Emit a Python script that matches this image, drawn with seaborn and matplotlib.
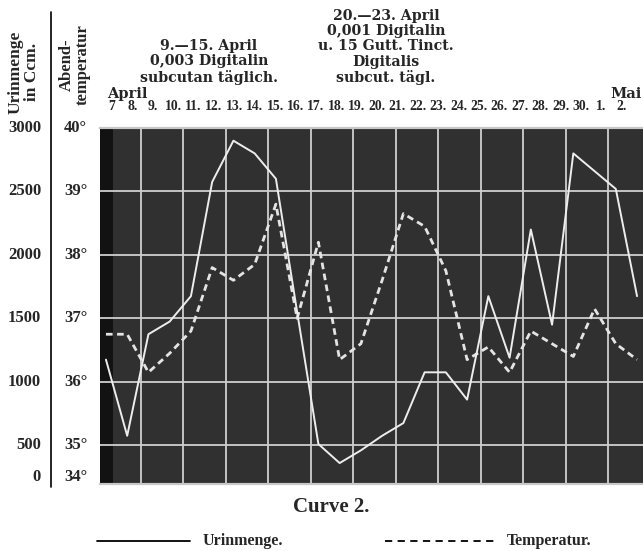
import numpy as np
import pandas as pd
import seaborn as sns
import matplotlib
matplotlib.use("Agg")
import matplotlib.pyplot as plt
from matplotlib.lines import Line2D
from matplotlib.patches import Rectangle
from matplotlib.transforms import blended_transform_factory

# ---------------- data ----------------
date_labels = ["7", "8.", "9.", "10.", "11.", "12.", "13.", "14.", "15.", "16.",
               "17.", "18.", "19.", "20.", "21.", "22.", "23.", "24.", "25.", "26.",
               "27.", "28.", "29.", "30.", "1.", "2."]
urine = [1175, 575, 1375, 1475, 1675, 2575, 2900, 2800, 2600, 1550,
         510, 360, 460, 575, 675, 1075, 1075, 860, 1675, 1190,
         2200, 1450, 2800, 2660, 2520, 1675]
temp = [36.75, 36.75, 36.15, 36.45, 36.8, 37.8, 37.6, 37.85, 38.8, 37.0,
        38.2, 36.35, 36.6, 37.6, 38.65, 38.45, 37.75, 36.35, 36.55, 36.15,
        36.8, 36.6, 36.4, 37.15, 36.6, 36.35]
urine_ticks = [500, 1000, 1500, 2000, 2500, 3000]
temp_ticks = [35, 36, 37, 38, 39, 40]

df = pd.DataFrame({"day": np.arange(len(date_labels)), "urine": urine, "temp": temp})

# ---------------- figure ----------------
W, H = 643, 551
sns.set_theme(style="white")
plt.rcParams["font.family"] = ["DejaVu Serif"]
NUM = ["Liberation Serif", "DejaVu Serif"]

fig = plt.figure(figsize=(W / 100, H / 100), dpi=100)
fig.patch.set_facecolor("white")

def fx(px):
    return px / W

def fy(py):
    return 1 - py / H

ax = fig.add_axes([fx(100), fy(484), (643 - 100) / W, (484 - 128) / H])
ax.set_facecolor("#303030")
ax.set_xlim(-0.28, 25.28)
ax.set_ylim(34.39, 40.0)

ax2 = ax.twinx()
ax2.set_ylim(195, 3000)

# dark strip at the left edge of the photographed grid
ax.add_patch(Rectangle((0, 0), 0.024, 1, transform=ax.transAxes,
                       color="#121212", zorder=0.5, lw=0))

# grid
grid_x = [1.65 + 2 * k for k in range(12)]
ax.set_xticks(grid_x)
ax.set_yticks(temp_ticks[:-1])
ax.grid(True, color="#cfcfcf", lw=1.3)
ax.tick_params(length=0, labelleft=False, labelbottom=False)
ax2.tick_params(length=0, labelright=False)
ax2.grid(False)
for a in (ax, ax2):
    for s in ("left", "right"):
        a.spines[s].set_visible(False)
    for s in ("top", "bottom"):
        a.spines[s].set_color("#c8c8c8")
        a.spines[s].set_linewidth(1.5)

# curves
sns.lineplot(data=df, x="day", y="temp", ax=ax, color="#e4e4e4", lw=2.0,
             linestyle=(0, (2.4, 1.6)), zorder=3)
sns.lineplot(data=df, x="day", y="urine", ax=ax2, color="#ededed", lw=1.4, zorder=4)
for a in (ax, ax2):
    a.set_xlabel("")
    a.set_ylabel("")

# date labels along the top (the printed row is set slightly tighter than the grid)
tdate = blended_transform_factory(ax.transData, fig.transFigure)
for i, lab in enumerate(date_labels):
    ax.text(0.28 + 0.96 * i, fy(107), lab, transform=tdate, ha="center", va="center",
            fontsize=9.8, fontweight="bold", family=NUM, clip_on=False)
fig.text(fx(107), fy(94), "April", ha="left", va="center", fontsize=10.5, fontweight="bold")
fig.text(fx(642), fy(94), "Mai", ha="right", va="center", fontsize=10.5, fontweight="bold")

# annotations
fig.text(fx(209), fy(62), "9.—15. April\n0,003 Digitalin\nsubcutan täglich.",
         ha="center", va="center", multialignment="center", fontsize=10.2,
         fontweight="bold", linespacing=1.12)
fig.text(fx(386), fy(47), "20.—23. April\n0,001 Digitalin\nu. 15 Gutt. Tinct.\nDigitalis\nsubcut. tägl.",
         ha="center", va="center", multialignment="center", fontsize=10.2,
         fontweight="bold", linespacing=1.12)

# left scales
fig.add_artist(Line2D([fx(50.5)] * 2, [fy(12), fy(487)], color="black", lw=1.2))
fig.text(fx(24), fy(72), "Urinmenge\nin Ccm.", rotation=90, ha="center", va="center",
         multialignment="center", fontsize=12.5, fontweight="bold", family=NUM, linespacing=1.0)
fig.text(fx(75), fy(65), "Abend-\ntemperatur", rotation=90, ha="center", va="center",
         multialignment="center", fontsize=12, fontweight="bold", family=NUM, linespacing=1.0)

tu = blended_transform_factory(fig.transFigure, ax2.transData)
for v in urine_ticks:
    fig.text(fx(41), v, str(v), transform=tu, ha="right", va="center",
             fontsize=12, fontweight="bold", family=NUM)
fig.text(fx(41), fy(477), "0", ha="right", va="center", fontsize=12, fontweight="bold", family=NUM)

tt = blended_transform_factory(fig.transFigure, ax.transData)
for v in temp_ticks:
    fig.text(fx(64), v, f"{v}°", transform=tt, ha="left", va="center",
             fontsize=12, fontweight="bold", family=NUM)
fig.text(fx(64), fy(477), "34°", ha="left", va="center", fontsize=12, fontweight="bold", family=NUM)

# caption and legend
fig.text(fx(331), fy(507), "Curve 2.", ha="center", va="center", fontsize=15,
         fontweight="bold", family=NUM)
fig.add_artist(Line2D([fx(97), fx(190)], [fy(541)] * 2, color="black", lw=1.3))
fig.text(fx(203), fy(541), "Urinmenge.", ha="left", va="center", fontsize=11.5,
         fontweight="bold", family=NUM)
fig.add_artist(Line2D([fx(385), fx(497)], [fy(541)] * 2, color="black", lw=1.3,
                      linestyle=(0, (4, 3))))
fig.text(fx(507), fy(541), "Temperatur.", ha="left", va="center", fontsize=11.5,
         fontweight="bold", family=NUM)

fig.savefig("out.png", dpi=100)
